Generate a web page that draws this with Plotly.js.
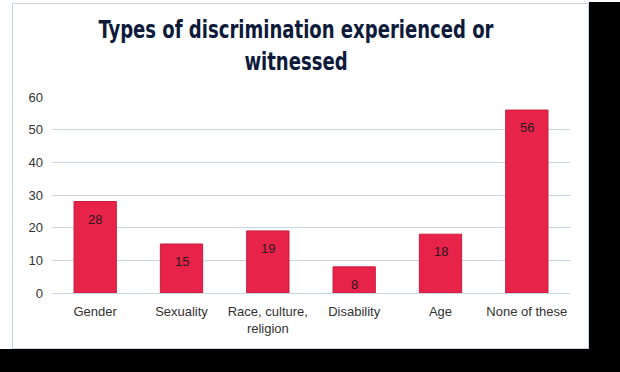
<!DOCTYPE html>
<html>
<head>
<meta charset="utf-8">
<script src="https://cdn.plot.ly/plotly-3.0.1.min.js"></script>
<style>
  html, body { margin: 0; padding: 0; background: #ffffff; }
  #wrap { position: relative; width: 620px; height: 372px; overflow: hidden; background: #ffffff; }
  .shadowR { position: absolute; left: 589px; top: 2px; width: 31px; height: 370px; background: #000; }
  .shadowB { position: absolute; left: 0px; top: 349px; width: 620px; height: 23px; background: #000; }
  .card { position: absolute; left: 12px; top: 3px; width: 575px; height: 344px; background: #fff; border: 1px solid #c6d3e3; }
  #chart { position: absolute; left: 0; top: 0; width: 620px; height: 372px; }
  #chart .gtitle { font-stretch: condensed !important; }
</style>
</head>
<body>
<div id="wrap">
  <div class="shadowR"></div>
  <div class="shadowB"></div>
  <div class="card"></div>
  <div id="chart"></div>
</div>
<script>
const categories = ["Gender", "Sexuality", "Race, culture,<br>religion", "Disability", "Age", "None of these"];
const values = [28, 15, 19, 8, 18, 56];
const yTicks = [0, 10, 20, 30, 40, 50, 60];

const trace = {
  type: "bar",
  x: categories,
  y: values,
  marker: { color: "#e8234a", line: { color: "#c81c3c", width: 1 } },
  hoverinfo: "x+y"
};

const annotations = categories.map((c, i) => ({
  x: c, y: values[i], xref: "x", yref: "y",
  text: String(values[i]), showarrow: false,
  yanchor: "top", yshift: -8,
  font: { family: "Liberation Sans, Arial, sans-serif", size: 13, color: "#2a1a1e" }
}));

const titleCenterX = 296;

const layout = {
  width: 620, height: 372,
  margin: { l: 52, r: 50, t: 97, b: 79 },
  paper_bgcolor: "rgba(0,0,0,0)",
  plot_bgcolor: "rgba(0,0,0,0)",
  showlegend: false,
  bargap: 0.51,
  title: {
    text: "Types of discrimination experienced or<br>witnessed",
    font: { family: "DejaVu Sans, sans-serif", size: 25, color: "#0e1a3a", weight: "bold" },
    xref: "container", x: titleCenterX / 620, xanchor: "center",
    yref: "container", y: 1 - 38 / 372, yanchor: "middle"
  },
  xaxis: {
    type: "category",
    showgrid: false, zeroline: false, showline: false, ticks: "",
    tickfont: { family: "Liberation Sans, Arial, sans-serif", size: 13, color: "#333333" },
    ticklabelstandoff: 9
  },
  yaxis: {
    range: [0, 60], tickvals: yTicks, ticktext: yTicks.map(String),
    showgrid: true, gridcolor: "#c9d6e4", gridwidth: 1,
    zeroline: true, zerolinecolor: "#c9d6e4", zerolinewidth: 1,
    showline: false, ticks: "",
    tickfont: { family: "Liberation Sans, Arial, sans-serif", size: 13, color: "#333333" },
    ticklabelstandoff: 8
  },
  annotations: annotations
};

Plotly.newPlot("chart", [trace], layout, { displayModeBar: false, staticPlot: true }).then(() => {
  const t = document.querySelector("#chart .gtitle");
  if (!t) return;
  const w = t.getBBox().width;
  const target = 396;
  if (w > target + 4) {
    const s = target / w;
    const prev = t.getAttribute("transform") || "";
    t.setAttribute("transform", prev + ` translate(${titleCenterX},0) scale(${s},1) translate(${-titleCenterX},0)`);
  }
});
</script>
</body>
</html>
